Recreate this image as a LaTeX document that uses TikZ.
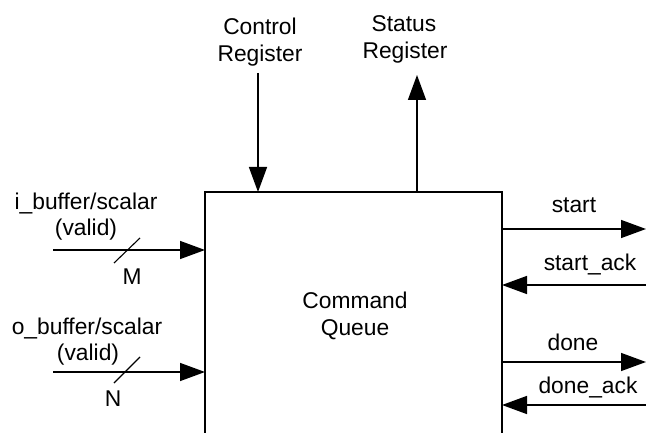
\documentclass[tikz,border=0pt]{standalone}
\usepackage{fontspec}
\setmainfont{Liberation Sans}
\usetikzlibrary{arrows.meta}
\begin{document}
\begin{tikzpicture}[x=1pt,y=-1pt,
  line width=1.4pt,
  sig/.style={-{Triangle[length=25pt,width=18pt]}},
  lbl/.style={font=\fontsize{22.8}{27}\selectfont, inner sep=0pt, anchor=base},
  bus/.style={line width=1.1pt}]
\useasboundingbox (0,0) rectangle (646,433);
% box (open at the bottom)
\coordinate (bl) at (205,434);
\coordinate (tl) at (205,192);
\coordinate (tr) at (502,192);
\coordinate (br) at (502,434);
\draw (bl) -- (tl) -- (tr) -- (br);
\node[lbl] (cq1) at (355,308) {Command};
\node[lbl] (cq2) at (355,335) {Queue};
% top
\node[lbl] (ctrl1) at (260,35) {Control};
\node[lbl] (ctrl2) at (260,62) {Register};
\node[lbl] (stat1) at (404,32) {Status};
\node[lbl] (stat2) at (405,59) {Register};
\coordinate (ctrlS) at (258,73);
\coordinate (ctrlE) at (258,192);
\coordinate (statS) at (417,192);
\coordinate (statE) at (417,75);
\draw[sig] (ctrlS) -- (ctrlE);
\draw[sig] (statS) -- (statE);
% left inputs
\node[lbl] (ib) at (86,210) {i\_buffer/scalar};
\node[lbl] (iv) at (86,236) {(valid)};
\coordinate (iS) at (53,250);
\coordinate (iE) at (205,250);
\draw[sig] (iS) -- (iE);
\coordinate (im1) at (114,263);
\coordinate (im2) at (140,238);
\draw[bus] (im1) -- (im2);
\node[lbl] (M) at (132,284) {M};
\node[lbl] (ob) at (87,334) {o\_buffer/scalar};
\node[lbl] (ov) at (88,360) {(valid)};
\coordinate (oS) at (53,372);
\coordinate (oE) at (205,372);
\draw[sig] (oS) -- (oE);
\coordinate (on1) at (114,383);
\coordinate (on2) at (140,357);
\draw[bus] (on1) -- (on2);
\node[lbl] (N) at (113,406) {N};
% right side
\node[lbl] (st) at (574,213) {start};
\coordinate (stS) at (502,229);
\coordinate (stE) at (646,229);
\draw[sig] (stS) -- (stE);
\node[lbl] (sa) at (590,270) {start\_ack};
\coordinate (saS) at (646,285);
\coordinate (saE) at (502,285);
\draw[sig] (saS) -- (saE);
\node[lbl] (dn) at (573,350) {done};
\coordinate (dnS) at (502,362);
\coordinate (dnE) at (646,362);
\draw[sig] (dnS) -- (dnE);
\node[lbl] (da) at (588,393) {done\_ack};
\coordinate (daS) at (646,405);
\coordinate (daE) at (502,405);
\draw[sig] (daS) -- (daE);
\end{tikzpicture}
\end{document}
